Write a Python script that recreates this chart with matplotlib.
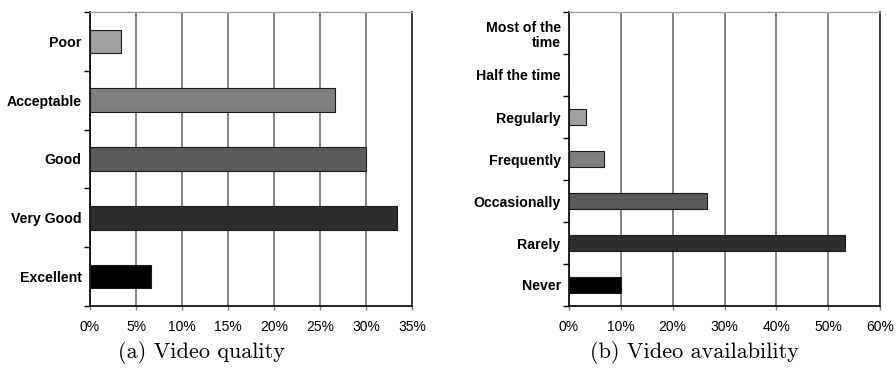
import matplotlib
matplotlib.use("Agg")
import matplotlib.pyplot as plt
from matplotlib.ticker import FixedLocator, PercentFormatter
import numpy as np

# Data
quality_cats = ["Excellent", "Very Good", "Good", "Acceptable", "Poor"]
quality_vals = [6.67, 33.33, 30.0, 26.67, 3.33]
quality_colors = ["#000000", "#2e2e2e", "#5a5a5a", "#7f7f7f", "#a0a0a0"]
quality_ticks = [0, 5, 10, 15, 20, 25, 30, 35]

avail_cats = ["Never", "Rarely", "Occasionally", "Frequently", "Regularly",
              "Half the time", "Most of the\ntime"]
avail_vals = [10.0, 53.33, 26.67, 6.67, 3.33, 0.0, 0.0]
avail_colors = ["#000000", "#2e2e2e", "#5a5a5a", "#7f7f7f", "#a0a0a0", "#b0b0b0", "#c0c0c0"]
avail_ticks = [0, 10, 20, 30, 40, 50, 60]

captions = ["(a) Video quality", "(b) Video availability"]

fig = plt.figure(figsize=(8.96, 3.85), dpi=100)
axA = fig.add_axes([90/896, 79/385, 322/896, 294/385])
axB = fig.add_axes([569/896, 79/385, 311/896, 294/385])

def draw(ax, cats, vals, colors, ticks):
    n = len(cats)
    y = np.arange(n)
    ax.barh(y, vals, height=0.4, color=colors, edgecolor="#1a1a1a", linewidth=0.8, zorder=3)
    ax.set_ylim(-0.5, n - 0.5)
    ax.set_xlim(ticks[0], ticks[-1])
    ax.set_yticks(y)
    ax.set_yticklabels(cats, fontsize=10.2, fontweight="bold", family="Liberation Sans",
                       linespacing=1.15)
    ax.tick_params(axis="y", which="major", length=0, pad=6)
    ax.yaxis.set_minor_locator(FixedLocator(np.arange(-0.5, n, 1.0)))
    ax.tick_params(axis="y", which="minor", length=4, width=1, direction="out", color="black")
    ax.set_xticks(ticks)
    ax.xaxis.set_major_formatter(PercentFormatter(decimals=0))
    for lab in ax.get_xticklabels():
        lab.set_family("Liberation Sans")
        lab.set_fontsize(10)
    ax.tick_params(axis="x", length=3, width=1, color="#808080", pad=7)
    ax.grid(axis="x", color="#7a7a7a", linewidth=1.3, zorder=0)
    ax.spines["left"].set_color("black")
    ax.spines["left"].set_linewidth(1.2)
    ax.spines["bottom"].set_color("black")
    ax.spines["bottom"].set_linewidth(1.2)
    ax.spines["top"].set_color("#a0a0a0")
    ax.spines["top"].set_linewidth(1.0)
    ax.spines["right"].set_color("#303030")
    ax.spines["right"].set_linewidth(1.3)

draw(axA, quality_cats, quality_vals, quality_colors, quality_ticks)
draw(axB, avail_cats, avail_vals, avail_colors, avail_ticks)

fig.text(201/896, 1 - 353/385, captions[0], ha="center", va="center",
         fontsize=16, family="cmr10")
fig.text(694/896, 1 - 353/385, captions[1], ha="center", va="center",
         fontsize=16, family="cmr10")

fig.savefig("out.png", dpi=100)
